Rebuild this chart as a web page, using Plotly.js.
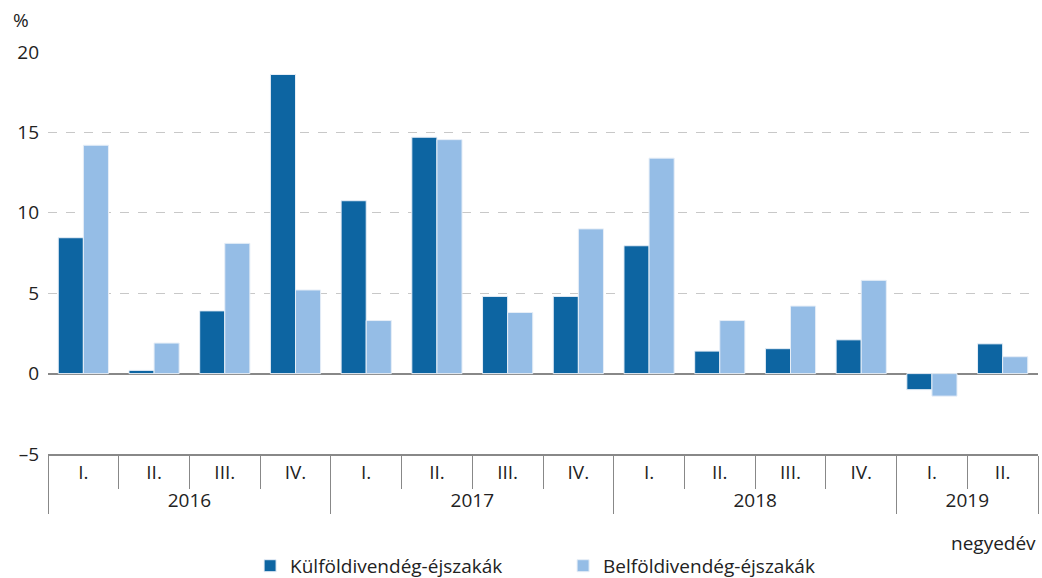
<!DOCTYPE html>
<html>
<head>
<meta charset="utf-8">
<script src="https://cdn.plot.ly/plotly-3.0.1.min.js"></script>
<style>html,body{margin:0;padding:0;background:#fff;}#chart{width:1042px;height:578px;}</style>
</head>
<body>
<div id="chart"></div>
<script>
var years = ["2016","2016","2016","2016","2017","2017","2017","2017","2018","2018","2018","2018","2019","2019"];
var quarters = ["I.","II.","III.","IV.","I.","II.","III.","IV.","I.","II.","III.","IV.","I.","II."];
var kulfoldi = [8.45, 0.2, 3.9, 18.6, 10.75, 14.7, 4.8, 4.8, 7.95, 1.4, 1.55, 2.1, -1.0, 1.85];
var belfoldi = [14.2, 1.9, 8.1, 5.2, 3.3, 14.55, 3.8, 9.0, 13.4, 3.3, 4.2, 5.8, -1.4, 1.05];
var seriesNames = ["Külföldivendég-éjszakák", "Belföldivendég-éjszakák"];

var font = "Open Sans, Noto Sans, sans-serif";
var traces = [
  {type:"bar", name:seriesNames[0], x:[years, quarters], y:kulfoldi,
   marker:{color:"#0d65a2", line:{color:"#e6eef7", width:1}}},
  {type:"bar", name:seriesNames[1], x:[years, quarters], y:belfoldi,
   marker:{color:"#95bde6", line:{color:"#e6eef7", width:1}}}
];
var layout = {
  width:1042, height:578,
  margin:{l:48, r:4, t:52, b:124, autoexpand:false},
  paper_bgcolor:"#fff", plot_bgcolor:"#fff",
  font:{family:font, size:19, color:"#222"},
  barmode:"group", bargap:0.29, bargroupgap:0,
  showlegend:true,
  legend:{orientation:"h", x:0.240, xanchor:"left", xref:"container", yref:"container", y:0.021, yanchor:"middle",
          font:{size:19}, itemwidth:20, entrywidth:268, entrywidthmode:"pixels", traceorder:"normal"},
  xaxis:{type:"multicategory", showline:true, linecolor:"#888", linewidth:2,
         ticks:"outside", tickson:"boundaries", ticklen:33, tickcolor:"#888", tickwidth:1,
         showdividers:true, dividercolor:"#888", dividerwidth:1,
         showgrid:false, tickfont:{size:19, color:"#222"}, fixedrange:true, automargin:false},
  yaxis:{range:[-5,20], tickvals:[-5,0,5,10,15,20], ticktext:["–5","0","5","10","15","20"],
         showgrid:true, gridcolor:"#c8c8c8", griddash:"dash", gridwidth:1,
         zeroline:true, zerolinecolor:"#888", zerolinewidth:2, showline:false,
         ticks:"", tickfont:{size:19, color:"#222"}, ticklabelstandoff:8, automargin:false},
  annotations:[
    {text:"%", xref:"paper", yref:"paper", x:-0.037, y:1.08, xanchor:"left", yanchor:"middle", showarrow:false, font:{size:19, color:"#222"}},
    {text:"negyedév", xref:"paper", yref:"paper", x:1, y:-0.221, xanchor:"right", yanchor:"middle", showarrow:false, font:{size:19, color:"#222"}}
  ]
};
Plotly.newPlot("chart", traces, layout, {displayModeBar:false, staticPlot:true});
</script>
</body>
</html>
